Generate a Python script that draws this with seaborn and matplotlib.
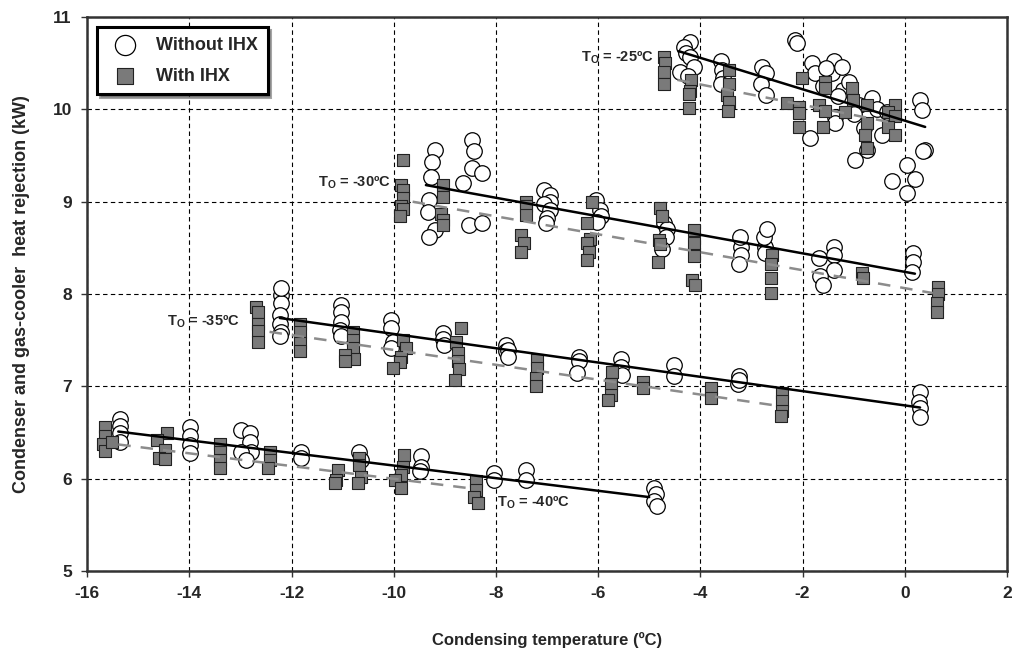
import numpy as np
import pandas as pd
import matplotlib
matplotlib.use("Agg")
import matplotlib.pyplot as plt
import seaborn as sns

# ---- data ----
# T_o = -25 C
t25_wo = [-4.20, -4.32, -4.29, -4.20, -4.39, -4.12, -4.25, -3.60, -3.57, -3.55, -3.60,
          -2.79, -2.72, -2.82, -2.72, -2.14, -2.11, -1.82, -1.76, -1.39, -1.42, -1.23,
          -1.37, -1.37, -1.20, -1.30, -1.85, -0.97, -0.64, -0.45, -0.74, -0.25, 0.04,
          0.20, 0.04, 0.30, 0.33, 0.40, 0.36, -1.55, -1.10, -0.90, -1.00, -0.55, -0.80,
          -1.60, -0.35]
q25_wo = [10.73, 10.68, 10.61, 10.57, 10.41, 10.46, 10.36, 10.52, 10.43, 10.34, 10.27,
          10.46, 10.39, 10.28, 10.16, 10.75, 10.72, 10.50, 10.39, 10.52, 10.39, 10.46,
          9.92, 9.85, 10.21, 10.15, 9.69, 9.45, 10.12, 9.72, 9.56, 9.22, 9.40,
          9.25, 9.09, 10.10, 9.99, 9.56, 9.55, 10.45, 10.30, 10.05, 9.95, 10.00, 9.80,
          10.25, 9.97]
t25_w = [-4.71, -4.70, -4.71, -4.71, -4.19, -4.21, -4.22, -4.22, -3.44, -3.44, -3.47,
         -3.44, -3.45, -2.31, -2.07, -2.07, -2.07, -2.01, -1.56, -1.56, -1.68, -1.56,
         -1.59, -1.03, -1.01, -1.17, -0.74, -0.74, -0.77, -0.74, -0.19, -0.32, -0.19,
         -0.32, -0.19]
q25_w = [10.57, 10.50, 10.41, 10.27, 10.32, 10.20, 10.17, 10.02, 10.43, 10.28, 10.16,
         10.08, 9.98, 10.07, 10.03, 9.96, 9.81, 10.34, 10.30, 10.23, 10.05, 9.98,
         9.81, 10.23, 10.10, 9.97, 10.05, 9.85, 9.72, 9.58, 10.05, 9.97, 9.93,
         9.81, 9.72]

# T_o = -30 C
t30_wo = [-9.20, -9.25, -9.27, -9.30, -9.33, -9.20, -9.30, -8.46, -8.43, -8.46, -8.27,
          -8.65, -8.52, -8.27, -7.05, -6.95, -6.95, -7.05, -6.95, -7.00, -7.02, -6.05,
          -5.97, -5.95, -6.02, -4.71, -4.66, -4.68, -4.75, -3.21, -3.21, -3.24, -2.73,
          -2.73, -1.68, -1.39, -1.39, -1.39, -1.66, -1.60, 0.17, 0.17, 0.14, -3.23,
          -2.75, -2.70]
q30_wo = [9.56, 9.43, 9.27, 9.02, 8.89, 8.69, 8.62, 9.67, 9.55, 9.37, 9.31,
          9.20, 8.75, 8.77, 9.13, 9.07, 9.00, 8.97, 8.91, 8.82, 8.77, 9.02,
          8.91, 8.84, 8.78, 8.77, 8.70, 8.62, 8.49, 8.51, 8.42, 8.33, 8.51,
          8.44, 8.39, 8.51, 8.42, 8.26, 8.19, 8.10, 8.44, 8.35, 8.24, 8.62,
          8.62, 8.70]
t30_w = [-9.82, -9.86, -9.82, -9.82, -9.86, -9.82, -9.88, -9.04, -9.04, -9.07, -9.04,
         -9.04, -7.41, -7.41, -7.41, -7.51, -7.45, -7.51, -6.11, -6.21, -6.15, -6.21,
         -6.18, -6.21, -4.78, -4.75, -4.81, -4.78, -4.83, -4.13, -4.13, -4.13, -4.16,
         -4.10, -2.60, -2.62, -2.62, -2.62, -0.84, -0.82, 0.66, 0.66, 0.63, 0.63]
q30_w = [9.45, 9.18, 9.13, 9.04, 8.95, 8.92, 8.84, 9.18, 9.05, 8.87, 8.80,
         8.75, 9.00, 8.95, 8.86, 8.64, 8.55, 8.46, 9.00, 8.77, 8.60, 8.55,
         8.46, 8.37, 8.93, 8.84, 8.59, 8.54, 8.35, 8.69, 8.55, 8.41, 8.15,
         8.10, 8.42, 8.32, 8.17, 8.01, 8.23, 8.17, 8.08, 8.00, 7.90, 7.81]

# T_o = -35 C
t35_wo = [-12.20, -12.20, -12.23, -12.23, -12.20, -12.23, -12.20, -11.03, -11.03, -11.03,
          -11.06, -11.03, -10.05, -10.05, -10.02, -10.05, -9.04, -9.04, -9.01, -7.80,
          -7.80, -7.77, -7.77, -6.37, -6.37, -6.41, -5.56, -5.56, -5.53, -4.52, -4.52,
          -3.25, -3.27, -3.25, 0.30, 0.27, 0.30, 0.30]
q35_wo = [7.99, 7.90, 7.77, 7.68, 7.59, 7.54, 8.06, 7.88, 7.81, 7.70,
          7.61, 7.54, 7.72, 7.63, 7.48, 7.41, 7.58, 7.51, 7.45, 7.45,
          7.38, 7.39, 7.32, 7.32, 7.27, 7.14, 7.30, 7.21, 7.12, 7.23, 7.11,
          7.11, 7.02, 7.07, 6.94, 6.83, 6.76, 6.67]
t35_w = [-12.69, -12.66, -12.66, -12.66, -12.66, -11.84, -11.84, -11.84, -11.84, -10.80,
         -10.80, -10.80, -10.77, -10.96, -10.96, -9.82, -9.76, -9.85, -9.88, -10.02,
         -8.68, -8.78, -8.75, -8.75, -8.72, -8.81, -7.19, -7.19, -7.22, -7.22,
         -5.72, -5.75, -5.75, -5.80, -5.13, -5.13, -3.80, -3.80, -2.40, -2.40,
         -2.40, -2.43]
q35_w = [7.86, 7.81, 7.67, 7.60, 7.48, 7.68, 7.59, 7.47, 7.38, 7.59,
         7.50, 7.41, 7.30, 7.34, 7.27, 7.50, 7.41, 7.32, 7.26, 7.20,
         7.63, 7.48, 7.36, 7.27, 7.19, 7.07, 7.29, 7.20, 7.09, 7.00,
         7.16, 7.03, 6.91, 6.85, 7.05, 6.98, 6.98, 6.87, 6.93, 6.84,
         6.73, 6.68]

# T_o = -40 C
t40_wo = [-15.36, -15.36, -15.36, -15.36, -13.99, -13.99, -13.99, -13.99, -12.98, -12.82,
          -12.82, -12.80, -12.98, -12.90, -11.81, -11.81, -10.67, -10.64, -9.46, -9.46,
          -9.49, -8.03, -8.03, -7.41, -7.41, -4.90, -4.87, -4.90, -4.85]
q40_wo = [6.65, 6.57, 6.49, 6.40, 6.56, 6.46, 6.36, 6.28, 6.53, 6.49,
          6.40, 6.29, 6.29, 6.20, 6.29, 6.22, 6.29, 6.20, 6.24, 6.13,
          6.08, 6.06, 5.99, 6.09, 5.99, 5.90, 5.83, 5.76, 5.70]
t40_w = [-15.65, -15.65, -15.68, -15.65, -15.52, -14.44, -14.64, -14.48, -14.60, -14.48,
         -13.40, -13.40, -13.40, -13.40, -12.43, -12.43, -12.46, -11.09, -11.12, -11.14,
         -10.67, -10.67, -10.64, -10.70, -9.79, -9.82, -9.85, -9.98, -9.85, -8.39,
         -8.39, -8.42, -8.36]
q40_w = [6.56, 6.46, 6.37, 6.30, 6.40, 6.49, 6.42, 6.31, 6.22, 6.21,
         6.38, 6.29, 6.20, 6.11, 6.29, 6.20, 6.11, 6.09, 5.99, 5.95,
         6.22, 6.15, 6.02, 5.95, 6.26, 6.13, 6.04, 5.99, 5.90, 5.97,
         5.88, 5.80, 5.74]

# trend lines: [x_start, x_end], [y_start, y_end]
fit_t_wo = {-25: [-4.42, 0.40], -30: [-9.37, 0.20], -35: [-12.23, 0.30], -40: [-15.39, -5.00]}
fit_q_wo = {-25: [10.63, 9.81], -30: [9.18, 8.22], -35: [7.74, 6.77], -40: [6.51, 5.80]}
fit_t_w = {-25: [-4.45, -0.19], -30: [-9.63, 0.55], -35: [-12.43, -2.50], -40: [-15.39, -8.58]}
fit_q_w = {-25: [10.32, 9.85], -30: [9.00, 8.01], -35: [7.59, 6.79], -40: [6.37, 5.90]}

# label anchors (left edge, vertical centre)
label_t = {-25: -6.33, -30: -11.49, -35: -14.44, -40: -7.97}
label_q = {-25: 10.56, -30: 9.20, -35: 7.70, -40: 5.74}

# ---- style ----
sns.set_theme(style="white")
plt.rcParams['font.family'] = ['Liberation Sans', 'DejaVu Sans']
plt.rcParams['font.weight'] = 'bold'
plt.rcParams['axes.unicode_minus'] = False
plt.rcParams['mathtext.fontset'] = 'custom'
plt.rcParams['mathtext.rm'] = 'Liberation Sans:bold'
plt.rcParams['mathtext.it'] = 'Liberation Sans:bold'
plt.rcParams['mathtext.bf'] = 'Liberation Sans:bold'

df_wo = pd.DataFrame({'t': t25_wo + t30_wo + t35_wo + t40_wo,
                      'q': q25_wo + q30_wo + q35_wo + q40_wo})
df_w = pd.DataFrame({'t': t25_w + t30_w + t35_w + t40_w,
                     'q': q25_w + q30_w + q35_w + q40_w})

fig = plt.figure(figsize=(10.13, 6.57), dpi=100)
ax = fig.add_axes([0.086, 0.131, 0.908, 0.843])

sns.scatterplot(data=df_wo, x='t', y='q', ax=ax, marker='o', s=125,
                facecolor='white', edgecolor='black', linewidth=0.9,
                label='Without IHX', zorder=2)
sns.scatterplot(data=df_w, x='t', y='q', ax=ax, marker='s', s=80,
                color='#7a7a7a', edgecolor='#222222', linewidth=0.8,
                label='With IHX', zorder=2)

for to in [-25, -30, -35, -40]:
    sns.lineplot(x=fit_t_wo[to], y=fit_q_wo[to], ax=ax, color='black', lw=1.8,
                 estimator=None, zorder=3, legend=False)
    sns.lineplot(x=fit_t_w[to], y=fit_q_w[to], ax=ax, color='#8c8c8c', lw=1.8,
                 dashes=False, linestyle=(0, (5, 4)), estimator=None, zorder=3,
                 legend=False)
    ax.text(label_t[to], label_q[to], r'$\mathrm{T_O}$ = %dºC' % to, fontsize=10.5,
            fontweight='bold', ha='left', va='center', zorder=4)

ax.set_xlim(-16, 2)
ax.set_ylim(5, 11)
ax.set_xticks(np.arange(-16, 3, 2))
ax.set_yticks(np.arange(5, 12, 1))
ax.grid(True, color='black', linestyle=(0, (4, 3)), linewidth=0.8)
ax.set_axisbelow(True)
for sp in ax.spines.values():
    sp.set_color('#333333')
    sp.set_linewidth(1.8)
ax.tick_params(axis='both', labelsize=12.5, length=4, width=1, color='#333333',
               bottom=True, left=True, pad=7)
plt.setp(ax.get_xticklabels() + ax.get_yticklabels(), fontweight='bold')

ax.set_xlabel('Condensing temperature (ºC)', fontsize=12, fontweight='bold', labelpad=22)
ax.set_ylabel('Condenser and gas-cooler  heat rejection (kW)', fontsize=13,
              fontweight='bold', labelpad=16)

leg = ax.legend(loc='upper left', bbox_to_anchor=(0.011, 0.982), borderaxespad=0,
                frameon=True, fancybox=False, shadow=True, fontsize=13,
                labelspacing=0.75, borderpad=0.55, handletextpad=0.7, markerscale=1.3)
leg.get_frame().set_edgecolor('black')
leg.get_frame().set_linewidth(2.2)
for t in leg.get_texts():
    t.set_fontweight('bold')

fig.savefig('out.png', dpi=100)
